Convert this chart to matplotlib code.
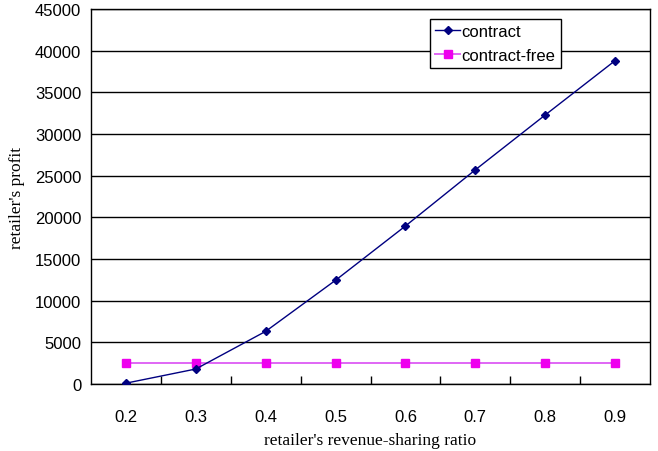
import numpy as np
import matplotlib.pyplot as plt
from matplotlib.ticker import FixedLocator

# revenue-sharing ratios (category axis) and retailer profits
ratios = ["0.2", "0.3", "0.4", "0.5", "0.6", "0.7", "0.8", "0.9"]
contract = [100, 1800, 6320, 12450, 18960, 25700, 32280, 38800]
contract_free = [2560, 2560, 2560, 2560, 2560, 2560, 2560, 2560]

fig = plt.figure(figsize=(6.58, 4.52), dpi=100)
ax = fig.add_axes([91 / 658, 67 / 452, 559 / 658, 375 / 452])

x = np.arange(len(ratios))
ax.plot(x, contract, color="#000080", linewidth=1.0, marker="D",
        markersize=4, markerfacecolor="#000080", markeredgecolor="#000080",
        label="contract", zorder=4)
ax.plot(x, contract_free, color="#e066f5", linewidth=1.4, marker="s",
        markersize=6, markerfacecolor="#ee00ee", markeredgecolor="#ee00ee",
        label="contract-free", zorder=3)

ax.set_xlim(-0.5, len(ratios) - 0.5)
ax.set_ylim(0, 45000)
ax.set_yticks(np.arange(0, 45001, 5000))
ax.yaxis.grid(True, color="black", linewidth=1.0)
ax.set_axisbelow(True)

ax.set_xticks(x)
ax.set_xticklabels(ratios, fontfamily="Liberation Sans", fontsize=12)
ax.xaxis.set_minor_locator(FixedLocator(np.arange(0.5, len(ratios) - 1, 1.0)))
ax.tick_params(axis="x", which="major", length=0, pad=18)
ax.tick_params(axis="x", which="minor", direction="in", length=6, width=1, color="black")
ax.tick_params(axis="y", length=0, pad=7)
for lab in ax.get_yticklabels():
    lab.set_fontfamily("Liberation Sans")
    lab.set_fontsize(12)

for side in ["left", "right", "bottom", "top"]:
    ax.spines[side].set_color("black")
    ax.spines[side].set_linewidth(1.0)

ax.set_xlabel("retailer's revenue-sharing ratio", fontfamily="Liberation Serif",
              fontsize=12.5, labelpad=6)
ax.set_ylabel("retailer's profit", fontfamily="Liberation Serif",
              fontsize=12.5, labelpad=7)

leg = ax.legend(loc="upper left", bbox_to_anchor=(339 / 559, 1 - 10 / 375),
                frameon=True, fancybox=False, shadow=False, framealpha=1,
                edgecolor="black", handlelength=1.5, handletextpad=0.1,
                borderpad=0.3, labelspacing=0.55, borderaxespad=0,
                prop={"family": "Liberation Sans", "size": 12})
leg.get_frame().set_linewidth(1.0)

fig.savefig("out.png", dpi=100)
